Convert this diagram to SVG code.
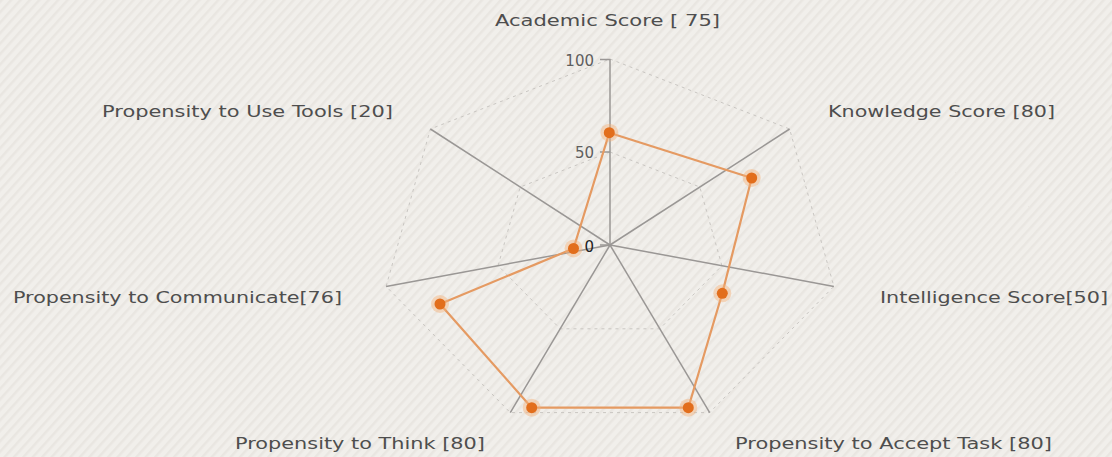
<svg xmlns="http://www.w3.org/2000/svg" width="1112" height="457" viewBox="0 0 1112 457">
  <defs>
    <pattern id="stripes" width="7" height="7" patternUnits="userSpaceOnUse" patternTransform="rotate(-48)">
      <rect width="7" height="7" fill="#f1efeb"/>
      <rect width="7" height="2.5" fill="#e9e6e1"/>
    </pattern>
    <style>
      .lbl { font-family: "DejaVu Sans", Verdana, sans-serif; font-size: 15px; fill: #4e4e4e; }
      .val { font-family: "DejaVu Sans", Verdana, sans-serif; font-size: 15px; fill: #5e5e5e; text-anchor: end; }
      .axis { stroke: #9a9795; stroke-width: 1.5; fill: none; }
      .grid { stroke: #c9c6c2; stroke-width: 1; stroke-dasharray: 3 4; fill: none; }
      .series { stroke: #e59a62; stroke-width: 2.2; fill: none; stroke-linejoin: round; }
      .halo { fill: #f5b27a; opacity: 0.45; }
      .dot { fill: #e26e1c; }
    </style>
  </defs>

  <rect id="background" width="1112" height="457" fill="url(#stripes)"/>

  <g id="grid">
    <polygon class="grid" points="610,59 789.6,129 833.9,286.4 709.7,412.6 510.3,412.6 386.1,286.4 430.4,129"/>
    <polygon class="grid" points="610,152 699.8,187 721.9,265.7 659.8,328.8 560.2,328.8 498.1,265.7 520.2,187"/>
  </g>

  <g id="connectors">
    <line class="axis" x1="610" y1="245" x2="610" y2="59"/>
    <line class="axis" x1="610" y1="245" x2="789.6" y2="129"/>
    <line class="axis" x1="610" y1="245" x2="833.9" y2="286.4"/>
    <line class="axis" x1="610" y1="245" x2="709.7" y2="412.6"/>
    <line class="axis" x1="610" y1="245" x2="510.3" y2="412.6"/>
    <line class="axis" x1="610" y1="245" x2="386.1" y2="286.4"/>
    <line class="axis" x1="610" y1="245" x2="430.4" y2="129"/>
    <line class="axis" x1="600" y1="59.5" x2="610" y2="59.5" stroke-width="1"/>
    <line class="axis" x1="600" y1="152" x2="610" y2="152" stroke-width="1"/>
    <line class="axis" x1="600" y1="245" x2="610" y2="245" stroke-width="1"/>
  </g>

  <g id="scale">
    <text class="val" x="594" y="66">100</text>
    <text class="val" x="594" y="158">50</text>
    <text class="val" x="594" y="252" style="fill:#222">0</text>
  </g>

  <g id="series">
    <polygon class="series" points="609.3,132.7 751.7,178 722.3,293.3 688.3,407.7 531.7,407.7 440,304 573.5,248.5"/>
    <g id="point-academic"><circle class="halo" cx="609.3" cy="132.7" r="9"/><circle class="dot" cx="609.3" cy="132.7" r="5.5"/></g>
    <g id="point-knowledge"><circle class="halo" cx="751.7" cy="178" r="9"/><circle class="dot" cx="751.7" cy="178" r="5.5"/></g>
    <g id="point-intelligence"><circle class="halo" cx="722.3" cy="293.3" r="9"/><circle class="dot" cx="722.3" cy="293.3" r="5.5"/></g>
    <g id="point-accept"><circle class="halo" cx="688.3" cy="407.7" r="9"/><circle class="dot" cx="688.3" cy="407.7" r="5.5"/></g>
    <g id="point-think"><circle class="halo" cx="531.7" cy="407.7" r="9"/><circle class="dot" cx="531.7" cy="407.7" r="5.5"/></g>
    <g id="point-communicate"><circle class="halo" cx="440" cy="304" r="9"/><circle class="dot" cx="440" cy="304" r="5.5"/></g>
    <g id="point-tools"><circle class="halo" cx="573.5" cy="248.5" r="9"/><circle class="dot" cx="573.5" cy="248.5" r="5.5"/></g>
  </g>

  <g id="label-academic"><text class="lbl" x="495" y="26" textLength="225" lengthAdjust="spacingAndGlyphs">Academic Score [ 75]</text></g>
  <g id="label-knowledge"><text class="lbl" x="828" y="117" textLength="227" lengthAdjust="spacingAndGlyphs">Knowledge Score [80]</text></g>
  <g id="label-intelligence"><text class="lbl" x="880" y="303" textLength="228" lengthAdjust="spacingAndGlyphs">Intelligence Score[50]</text></g>
  <g id="label-accept"><text class="lbl" x="735" y="449" textLength="317" lengthAdjust="spacingAndGlyphs">Propensity to Accept Task [80]</text></g>
  <g id="label-think"><text class="lbl" x="235" y="449" textLength="250" lengthAdjust="spacingAndGlyphs">Propensity to Think [80]</text></g>
  <g id="label-communicate"><text class="lbl" x="13" y="303" textLength="329" lengthAdjust="spacingAndGlyphs">Propensity to Communicate[76]</text></g>
  <g id="label-tools"><text class="lbl" x="102" y="117" textLength="291" lengthAdjust="spacingAndGlyphs">Propensity to Use Tools [20]</text></g>
</svg>
